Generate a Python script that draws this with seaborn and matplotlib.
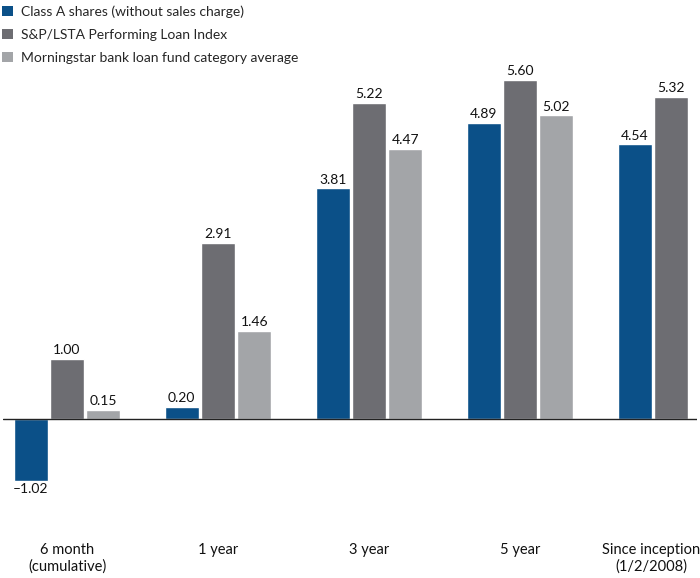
import numpy as np
import pandas as pd
import matplotlib
matplotlib.use("Agg")
import matplotlib.pyplot as plt
import matplotlib.transforms as mtransforms
from matplotlib.patches import Patch
import seaborn as sns

categories = ["6 month\n(cumulative)", "1 year", "3 year", "5 year", "Since inception\n(1/2/2008)"]
series = ["Class A shares (without sales charge)",
          "S&P/LSTA Performing Loan Index",
          "Morningstar bank loan fund category average"]
class_a = [-1.02, 0.20, 3.81, 4.89, 4.54]
index_vals = [1.00, 2.91, 5.22, 5.60, 5.32]
morningstar = [0.15, 1.46, 4.47, 5.02, np.nan]
colors = ["#0b5088", "#6d6d72", "#a3a5a8"]

rows = []
for s, vals in zip(series, [class_a, index_vals, morningstar]):
    for c, v in zip(categories, vals):
        rows.append({"category": c, "series": s, "value": v})
df = pd.DataFrame(rows)

sns.set_theme(style="white")
plt.rcParams["font.family"] = ["Lato", "DejaVu Sans"]

W, H = 700, 578
fig = plt.figure(figsize=(W / 100, H / 100), dpi=100)
ax_l, ax_r = 3 / W, 697 / W
ax_t, ax_b = 60 / H, 500 / H
ax = fig.add_axes([ax_l, 1 - ax_b, ax_r - ax_l, ax_b - ax_t])

sns.barplot(data=df, x="category", y="value", hue="series", order=categories,
            hue_order=series, palette=colors, width=0.72, gap=0.06,
            saturation=1, ax=ax, legend=False, errorbar=None)

ax.set_xlim(-0.424, 4.172)
ax.set_ylim(-(500 - 419) / 60.5, (419 - 60) / 60.5)
ax.axhline(0, color="#222222", lw=1.0, zorder=5)

for cont in ax.containers:
    labels = []
    for b in cont:
        h = b.get_height()
        labels.append("" if np.isnan(h) else f"{h:.2f}".replace("-", "\u2013"))
    ax.bar_label(cont, labels=labels, padding=2, fontsize=10, color="#111111")

for sp in ax.spines.values():
    sp.set_visible(False)
ax.set_yticks([])
ax.set_xlabel("")
ax.set_ylabel("")
ax.tick_params(axis="x", length=0, pad=31, labelsize=10.5, labelcolor="#111111")
ticklabels = ax.get_xticklabels()
for t in ticklabels:
    t.set_linespacing(1.2)
last = ticklabels[-1]
last.set_transform(last.get_transform() + mtransforms.ScaledTranslation(-20 / 100, 0, fig.dpi_scale_trans))

handles = [Patch(facecolor=c, edgecolor="none") for c in colors]
fig.legend(handles, series, loc="upper left", bbox_to_anchor=(0.0, 1.0 - 3 / H),
           frameon=False, fontsize=10, handlelength=0.75, handleheight=0.75,
           handletextpad=0.6, labelspacing=0.8, borderaxespad=0.0,
           borderpad=0.15)

fig.savefig("out.png", dpi=100)
